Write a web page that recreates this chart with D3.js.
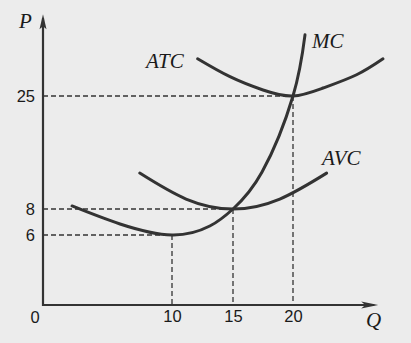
<!DOCTYPE html>
<html><head><meta charset="utf-8">
<script src="https://cdn.jsdelivr.net/npm/d3@7"></script>
<style>
html,body{margin:0;padding:0;background:#ececec;}
svg{display:block;}
</style></head>
<body>
<svg id="chart" width="411" height="343"></svg>
<script>
// ---- data ----
const qTicks = [10, 15, 20];
const pTicks = [6, 8, 25];
const mcQ = [2.25, 5.97, 10, 13.1, 15, 17.42, 20, 21.0];
const mcP = [8.46, 6.85, 6, 6.69, 8, 13.56, 25, 34.2];
const avcQ = [7.5, 11.15, 15, 18.9, 22.8];
const avcP = [13.4, 9.5, 8, 9.5, 13.4];
const atcQ = [12.1, 14.75, 17.5, 20, 22.5, 25.3, 27.5];
const atcP = [30.6, 27.9, 25.9, 25, 26.2, 28.2, 30.6];
const guides = [{q:10,p:6},{q:15,p:8},{q:20,p:25}];
const curveLabels = ["MC","AVC","ATC"];

const svg = d3.select("#chart");
const ink = "#333";

// figure is not drawn to scale: piecewise linear scales
const x = d3.scaleLinear().domain([0,10,15,20]).range([43,172,233,293]);
const y = d3.scaleLinear().domain([0,6,8,25]).range([305,235,209,96]);
const qMax = 27.1, pMax = 37.3;

// dashed guides
guides.forEach(g => {
  svg.append("line").attr("x1",x(0)).attr("x2",x(g.q)).attr("y1",y(g.p)).attr("y2",y(g.p))
    .attr("stroke",ink).attr("stroke-width",1.3).attr("stroke-dasharray","5,3");
  svg.append("line").attr("x1",x(g.q)).attr("x2",x(g.q)).attr("y1",y(g.p)).attr("y2",y(0))
    .attr("stroke",ink).attr("stroke-width",1.3).attr("stroke-dasharray","5,3");
});

// axes
svg.append("line").attr("x1",x(0)).attr("x2",x(0)).attr("y1",y(0)+1).attr("y2",y(pMax)+4)
  .attr("stroke",ink).attr("stroke-width",2.2);
svg.append("line").attr("x1",x(0)-1).attr("x2",x(qMax)-4).attr("y1",y(0)).attr("y2",y(0))
  .attr("stroke",ink).attr("stroke-width",2.2);
// arrowheads
const tx = x(0), ty = y(pMax);
svg.append("path").attr("d",`M${tx},${ty} L${tx-3.5},${ty+15} L${tx},${ty+12} L${tx+3.5},${ty+15} Z`).attr("fill",ink);
const ax = x(qMax), ay = y(0);
svg.append("path").attr("d",`M${ax},${ay} L${ax-17},${ay-3.5} L${ax-13},${ay} L${ax-17},${ay+3.5} Z`).attr("fill",ink);

// tick labels via axes
const fontSans = "'Liberation Sans', Arial, sans-serif";
const gx = svg.append("g").attr("transform",`translate(0,${y(0)})`)
  .call(d3.axisBottom(x).tickValues(qTicks).tickSize(0).tickPadding(5));
const gy = svg.append("g").attr("transform",`translate(${x(0)},0)`)
  .call(d3.axisLeft(y).tickValues(pTicks).tickSize(0).tickPadding(8));
[gx,gy].forEach(g => {
  g.select(".domain").remove();
  g.selectAll("text").attr("font-family",fontSans).attr("font-size",16.5).attr("fill","#1a1a1a");
});
svg.append("text").attr("x",35).attr("y",323).attr("text-anchor","middle")
  .attr("font-family",fontSans).attr("font-size",16.5).attr("fill","#1a1a1a").text("0");

// curves
const line = d3.line().x(d=>x(d[0])).y(d=>y(d[1])).curve(d3.curveNatural);
const series = [d3.zip(mcQ,mcP), d3.zip(avcQ,avcP), d3.zip(atcQ,atcP)];
series.forEach(s => {
  svg.append("path").attr("d",line(s)).attr("fill","none").attr("stroke",ink)
    .attr("stroke-width",3).attr("stroke-linecap","round");
});

// labels
const fontSerif = "'Liberation Serif', 'Times New Roman', serif";
const lab = (t,xx,yy) => svg.append("text").attr("x",xx).attr("y",yy)
  .attr("font-family",fontSerif).attr("font-style","italic").attr("font-size",21)
  .attr("fill","#1a1a1a").text(t);
lab(curveLabels[0],312,48);
lab(curveLabels[1],322,165);
lab(curveLabels[2],146,68);
lab("P",19,28);
lab("Q",366,327);
</script>
</body></html>
